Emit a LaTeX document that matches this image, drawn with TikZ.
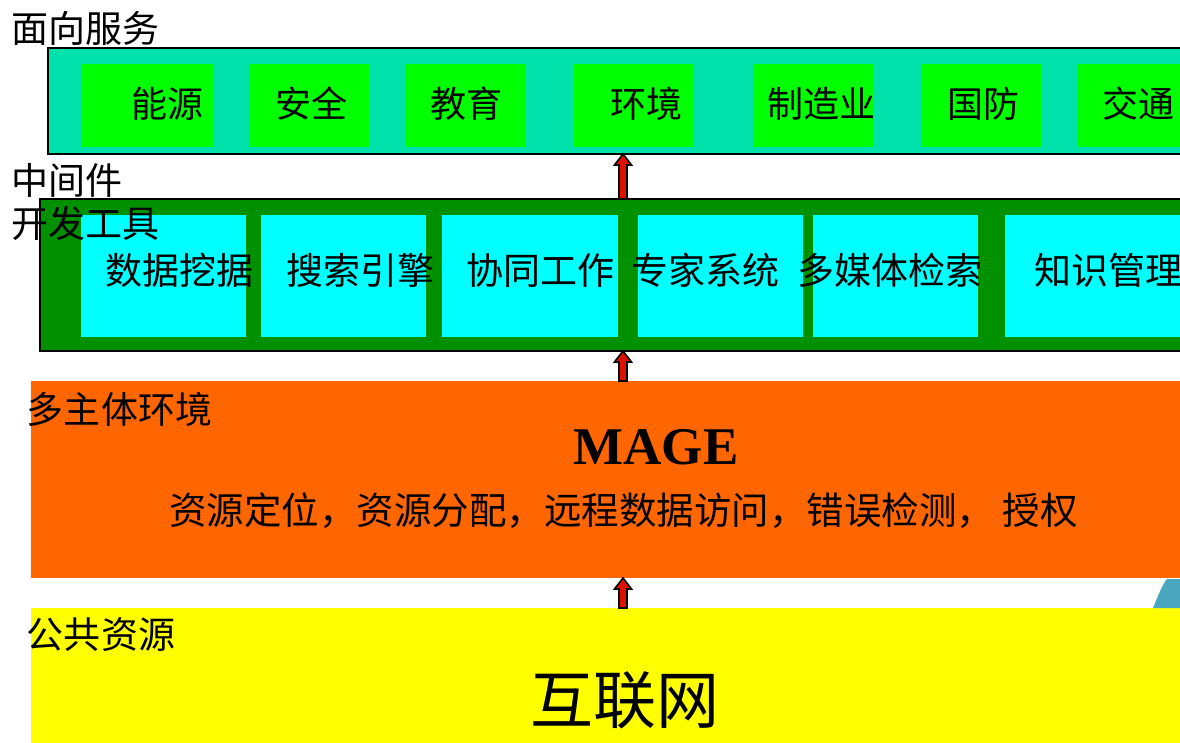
\documentclass[tikz,border=0pt]{standalone}
\usepackage{fontspec}
\setmainfont{Noto Sans CJK SC}
\newfontfamily\serifbold{Liberation Serif}
\usetikzlibrary{calc}
\definecolor{topteal}{HTML}{00E2AC}
\definecolor{litegreen}{HTML}{00FF00}
\definecolor{darkgreen}{HTML}{009000}
\definecolor{cyanbox}{HTML}{00FFFF}
\definecolor{orangebox}{HTML}{FF6600}
\definecolor{yellowbox}{HTML}{FFFF00}
\definecolor{arrowred}{HTML}{DD1100}
\definecolor{fragblue}{HTML}{4BA6C0}
\tikzset{
  panel/.style={rectangle, inner sep=0, outer sep=0, anchor=north west},
  cell/.style={rectangle, inner sep=0, outer sep=0, anchor=north west, minimum height=#1},
  lab/.style={inner sep=0, outer sep=0, anchor=base, font=\fontsize{36}{40}\selectfont},
  sidelab/.style={inner sep=0, outer sep=0, anchor=base west, font=\fontsize{37}{40}\selectfont},
  blockarrow/.style={fill=arrowred, draw=black, line width=1.6pt, line join=miter}
}
\newcommand{\blkarrow}[3]{% #1 x-coordinate name, #2 bottom anchor, #3 top anchor
  \draw[blockarrow] let \p1=(#1 |- #2), \p2=(#1 |- #3) in
    (\x1-4pt,\y1) -- (\x1-4pt,\y2-11pt) -- (\x1-8.5pt,\y2-11pt) -- (\x1,\y2)
    -- (\x1+8.5pt,\y2-11pt) -- (\x1+4pt,\y2-11pt) -- (\x1+4pt,\y1) -- cycle;}
\begin{document}
\begin{tikzpicture}[x=1pt,y=-1pt]
\useasboundingbox (0,0) rectangle (1180,742);
\clip (0,0) rectangle (1180,742);
\fill[white] (0,0) rectangle (1180,742);

% ---- top panel: services
\node[panel, draw=black, line width=2pt, fill=topteal, minimum width=1160, minimum height=106] (svc) at (48,48) {};
\foreach \nm/\xa/\xb in {s1/81/214, s2/249/370, s3/405/525, s4/573/694, s5/753/873, s6/921/1042, s7/1077/1220}{
  \pgfmathsetmacro{\w}{\xb-\xa}
  \node[cell=83, fill=litegreen, minimum width=\w] (\nm) at (\xa,64) {};
}
\node[lab] (t1) at (167,117) {能源};
\node[lab] (t2) at (311,117) {安全};
\node[lab] (t3) at (466,117) {教育};
\node[lab] (t4) at (646,117) {环境};
\node[lab] (t5) at (821,117) {制造业};
\node[lab] (t6) at (983,117) {国防};
\node[lab] (t7) at (1138,117) {交通};

% ---- middle panel: middleware / tools
\node[panel, draw=black, line width=2pt, fill=darkgreen, minimum width=1170, minimum height=152] (mid) at (40,199) {};
\foreach \nm/\xa/\xb in {m1/81/246, m2/261/426, m3/442/618, m4/638/803, m5/813/978, m6/1005/1220}{
  \pgfmathsetmacro{\w}{\xb-\xa}
  \node[cell=122, fill=cyanbox, minimum width=\w] (\nm) at (\xa,215) {};
}
\node[lab, font=\fontsize{37}{40}\selectfont] (u1) at (179,284) {数据挖据};
\node[lab, font=\fontsize{37}{40}\selectfont] (u2) at (360,284) {搜索引擎};
\node[lab, font=\fontsize{37}{40}\selectfont] (u3) at (540,284) {协同工作};
\node[lab, font=\fontsize{37}{40}\selectfont] (u4) at (705,284) {专家系统};
\node[lab, font=\fontsize{37}{40}\selectfont] (u5) at (890,284) {多媒体检索};
\node[lab, font=\fontsize{37}{40}\selectfont] (u6) at (1108,284) {知识管理};

% ---- MAGE panel
\node[panel, fill=orangebox, minimum width=1180, minimum height=197] (mage) at (31,381) {};
\node[inner sep=0, anchor=base, font=\serifbold\bfseries\fontsize{53}{56}\selectfont] (mt) at (656,464) {MAGE};
\node[inner sep=0, anchor=base, font=\fontsize{37.5}{40}\selectfont] (ml) at (623.5,524) {资源定位，资源分配，远程数据访问，错误检测， 授权};

% ---- Internet panel
\node[panel, fill=yellowbox, minimum width=1180, minimum height=140] (net) at (31,608) {};
\node[inner sep=0, anchor=base, font=\fontsize{63}{66}\selectfont] (nt) at (625,723) {互联网};

% fragment of picture at lower right
\fill[fragblue] (1153,608) .. controls (1158,596) and (1162,585) .. (1167,579) -- (1185,579) -- (1185,608) -- cycle;

% ---- side labels
\node[sidelab] (l1) at (11,42) {面向服务};
\node[sidelab] (l2) at (11,194) {中间件};
\node[sidelab] (l3) at (11,237) {开发工具};
\node[sidelab] (l4) at (27,423) {多主体环境};
\node[sidelab] (l5) at (27,648) {公共资源};

% ---- arrows
\coordinate (ax) at (623,0);
\blkarrow{ax}{mid.north}{svc.south}
\blkarrow{ax}{mage.north}{mid.south}
\blkarrow{ax}{net.north}{mage.south}
\end{tikzpicture}
\end{document}
